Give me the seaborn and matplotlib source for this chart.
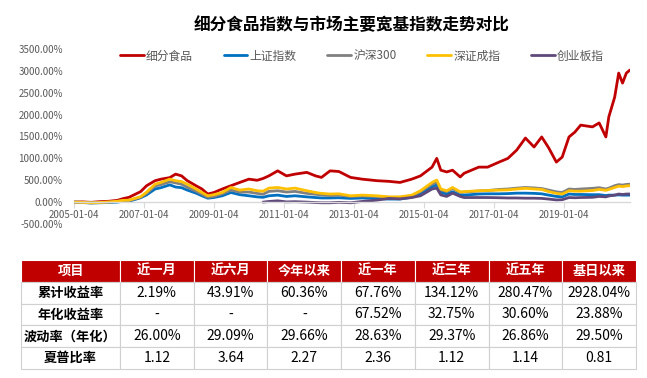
import matplotlib
matplotlib.use("Agg")
import matplotlib.pyplot as plt
import matplotlib.dates as mdates
from matplotlib.ticker import FuncFormatter
from matplotlib.lines import Line2D
import seaborn as sns
import pandas as pd
import numpy as np

sns.set_theme(style="white")
plt.rcParams['font.family'] = ['Noto Sans CJK SC', 'DejaVu Sans']

title = "细分食品指数与市场主要宽基指数走势对比"
series_names = ["细分食品", "上证指数", "沪深300", "深证成指", "创业板指"]
colors = ["#C00000", "#0070C0", "#808080", "#FFC000", "#5F497A"]

dates = ["2005-01-04", "2005-04-01", "2005-07-01", "2005-10-01", "2006-01-04", "2006-04-01",
         "2006-06-01", "2006-08-01", "2006-12-01", "2007-02-01", "2007-05-01", "2007-07-01",
         "2007-10-01", "2007-12-01", "2008-02-01", "2008-04-01", "2008-07-01", "2008-09-01",
         "2008-11-01", "2009-01-04", "2009-04-01", "2009-07-01", "2009-10-01", "2010-01-04",
         "2010-04-01", "2010-06-01", "2010-08-01", "2010-11-01", "2011-02-01", "2011-05-01",
         "2011-09-01", "2011-12-01", "2012-02-01", "2012-05-01", "2012-08-01", "2012-12-01",
         "2013-04-01", "2013-09-01", "2014-01-04", "2014-05-01", "2014-09-01", "2014-12-01",
         "2015-04-01", "2015-05-20", "2015-07-01", "2015-09-01", "2015-11-01", "2016-01-20",
         "2016-03-01", "2016-08-01", "2016-11-01", "2017-03-01", "2017-06-01", "2017-09-01",
         "2017-12-01", "2018-03-01", "2018-05-20", "2018-08-01", "2018-10-20", "2018-12-20",
         "2019-03-01", "2019-05-01", "2019-07-01", "2019-11-01", "2020-01-10", "2020-03-20",
         "2020-04-20", "2020-06-20", "2020-08-01", "2020-09-10", "2020-10-20", "2020-11-27"]

food = [0, 5, -5, 10, 20, 40, 80, 110, 240, 375, 490, 525, 560, 640, 600, 490, 375, 300,
        185, 220, 300, 375, 450, 525, 500, 540, 600, 715, 600, 640, 680, 600, 565, 715, 700, 565,
        525, 490, 475, 450, 525, 600, 800, 1000, 730, 690, 730, 575, 660, 800, 800, 915, 1000, 1190,
        1465, 1260, 1490, 1240, 915, 1030, 1490, 1600, 1760, 1720, 1810, 1490, 1950, 2400, 2950,
        2720, 2950, 3020]
sh = [0, -10, -20, -15, -8, 0, 20, 20, 100, 165, 300, 330, 395, 345, 330, 275, 205, 145,
      90, 105, 145, 220, 170, 145, 120, 110, 145, 160, 130, 145, 120, 105, 95, 95, 100, 85,
      95, 80, 70, 70, 110, 200, 350, 395, 230, 185, 235, 160, 160, 185, 190, 190, 195, 205,
      205, 200, 190, 160, 130, 120, 185, 175, 175, 170, 170, 150, 160, 160, 165, 160, 160, 160]
hs300 = [0, -5, -15, -10, 0, 15, 35, 35, 110, 200, 370, 400, 465, 440, 410, 340, 250, 180,
         110, 130, 190, 275, 230, 230, 200, 180, 245, 260, 230, 245, 200, 180, 165, 150, 160, 130,
         140, 130, 110, 110, 145, 240, 410, 460, 280, 240, 310, 220, 230, 255, 265, 290, 300, 320,
         335, 325, 310, 275, 235, 220, 300, 290, 300, 315, 330, 300, 320, 375, 400, 390, 405, 410]
sz = [0, -5, -15, -8, 5, 20, 40, 45, 125, 230, 410, 450, 525, 490, 470, 410, 300, 220,
      145, 170, 220, 335, 275, 300, 260, 250, 320, 335, 300, 320, 260, 220, 200, 185, 190, 145,
      160, 145, 120, 120, 160, 260, 450, 505, 300, 260, 335, 235, 240, 260, 265, 275, 280, 300,
      315, 300, 290, 240, 200, 185, 260, 250, 250, 265, 290, 270, 290, 335, 365, 355, 370, 375]
cyb = [None] * 25 + [0, 15, 30, 5, 10, 0, -10, -15, -15, -5, -15,
                     15, 45, 85, 75, 105, 145, 300, 320, 165, 130, 205, 130, 105, 105, 105, 100, 95, 95,
                     90, 90, 85, 70, 50, 55, 105, 100, 105, 110, 130, 120, 140, 160, 185, 175, 185, 185]

headers = ["项目", "近一月", "近六月", "今年以来", "近一年", "近三年", "近五年", "基日以来"]
row_labels = ["累计收益率", "年化收益率", "波动率（年化）", "夏普比率"]
cum_ret = ["2.19%", "43.91%", "60.36%", "67.76%", "134.12%", "280.47%", "2928.04%"]
ann_ret = ["-", "-", "-", "67.52%", "32.75%", "30.60%", "23.88%"]
vol = ["26.00%", "29.09%", "29.66%", "28.63%", "29.37%", "26.86%", "29.50%"]
sharpe = ["1.12", "3.64", "2.27", "2.36", "1.12", "1.14", "0.81"]
xtick_dates = ["2005-01-04", "2007-01-04", "2009-01-04", "2011-01-04",
               "2013-01-04", "2015-01-04", "2017-01-04", "2019-01-04"]

# long-format data
recs = []
for name, vals in zip(series_names, [food, sh, hs300, sz, cyb]):
    for d, v in zip(dates, vals):
        if v is not None:
            recs.append((pd.Timestamp(d), v, name))
df = pd.DataFrame(recs, columns=["date", "value", "series"])

W, H = 647, 378
fig = plt.figure(figsize=(W / 100, H / 100), dpi=100)
ax = fig.add_axes([74 / W, 1 - 224 / H, (630 - 74) / W, (224 - 49) / H])

sns.lineplot(data=df, x="date", y="value", hue="series", hue_order=series_names,
             palette=dict(zip(series_names, colors)), linewidth=2.0, legend=False,
             ax=ax, estimator=None)

ax.set_xlim(pd.Timestamp(dates[0]), pd.Timestamp(dates[-1]))
ax.set_ylim(-500, 3500)
ax.set_yticks(np.arange(-500, 3501, 500))
ax.yaxis.set_major_formatter(FuncFormatter(lambda v, p: f"{v:.2f}%"))
ax.set_xticks([pd.Timestamp(d) for d in xtick_dates])
ax.xaxis.set_major_formatter(mdates.DateFormatter("%Y-%m-%d"))
ax.set_xlabel("")
ax.set_ylabel("")
for s in ["top", "right", "left"]:
    ax.spines[s].set_visible(False)
ax.spines["bottom"].set_position(("data", 0))
ax.spines["bottom"].set_color("#d9d9d9")
ax.spines["bottom"].set_linewidth(1.0)
ax.tick_params(axis="x", length=4, width=0.8, color="#d9d9d9", labelsize=7,
               labelcolor="#595959", pad=2, bottom=True)
ax.tick_params(axis="y", length=0, labelsize=7, labelcolor="#595959", pad=8)
ax.grid(False)
ax.patch.set_alpha(0)

handles = [Line2D([0], [0], color=c, lw=2) for c in colors]
fig.legend(handles, series_names, loc="center", bbox_to_anchor=(362 / W, 1 - 56 / H),
           ncol=5, frameon=False, fontsize=8.5, handlelength=2.0, handletextpad=0.2,
           columnspacing=2.6, labelcolor="#595959")

fig.text(352 / W, 1 - 25 / H, title, ha="center", va="center", fontsize=12,
         fontweight="bold", color="black")

# table
tax = fig.add_axes([21 / W, 1 - 369 / H, (636 - 21) / W, (369 - 260) / H])
tax.axis("off")
cell_text = [[lab] + vals for lab, vals in zip(row_labels, [cum_ret, ann_ret, vol, sharpe])]
first_w = 99
other_w = (636 - 21 - first_w) / 7
col_w = [first_w] + [other_w] * 7
tot = sum(col_w)
tbl = tax.table(cellText=cell_text, colLabels=headers, colWidths=[w / tot for w in col_w],
                cellLoc="center", bbox=[0, 0, 1, 1])
tbl.auto_set_font_size(False)
for (r, c), cell in tbl.get_celld().items():
    cell.set_linewidth(0.8)
    if r == 0:
        cell.set_facecolor("#C00000")
        cell.set_edgecolor("white")
        cell.get_text().set_color("white")
        cell.get_text().set_fontweight("bold")
        cell.get_text().set_fontsize(9.5)
    else:
        cell.set_facecolor("white")
        cell.set_edgecolor("#d0d0d0")
        cell.get_text().set_color("black")
        cell.get_text().set_fontsize(10)
        if c == 0:
            cell.get_text().set_fontweight("bold")
            cell.get_text().set_fontsize(9.5)

fig.savefig("out.png", dpi=100)
